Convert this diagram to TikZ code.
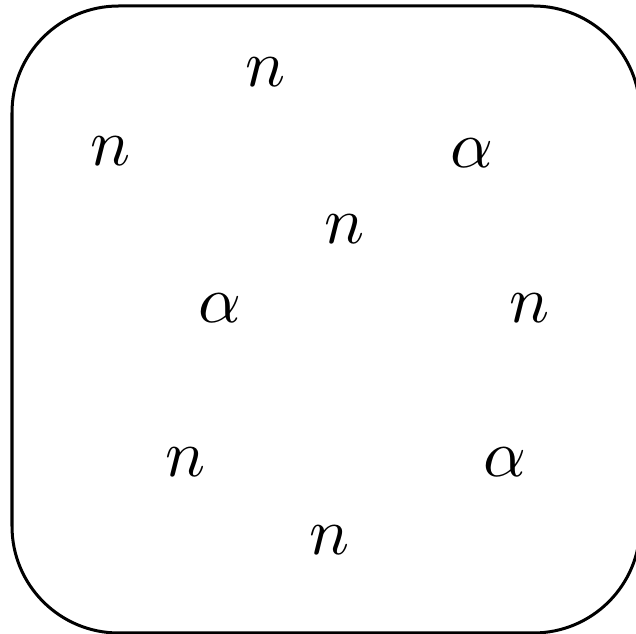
\documentclass[tikz,border=0pt]{standalone}
\usepackage{amsmath,amssymb}
\usepackage{tikz}
\usetikzlibrary{positioning}

\begin{document}
\begin{tikzpicture}[
  x=0.15pt, y=-0.15pt,
  frame/.style={draw=black, line width=0.45pt, rounded corners=16pt},
  sym/.style={inner sep=0pt, font=\normalsize},
]
\useasboundingbox (0,0) rectangle (636,634);
% Outer box
\draw[frame] (12,6) rectangle (640,633);
% Symbols
\node[sym] (n1) at (266,72)  {$n$};
\node[sym] (n2) at (111,151) {$n$};
\node[sym] (a1) at (472,153) {$\alpha$};
\node[sym] (n3) at (345,229) {$n$};
\node[sym] (a2) at (220,308) {$\alpha$};
\node[sym] (n4) at (530,308) {$n$};
\node[sym] (n5) at (186,462) {$n$};
\node[sym] (a3) at (505,462) {$\alpha$};
\node[sym] (n6) at (330,540) {$n$};
\end{tikzpicture}
\end{document}
